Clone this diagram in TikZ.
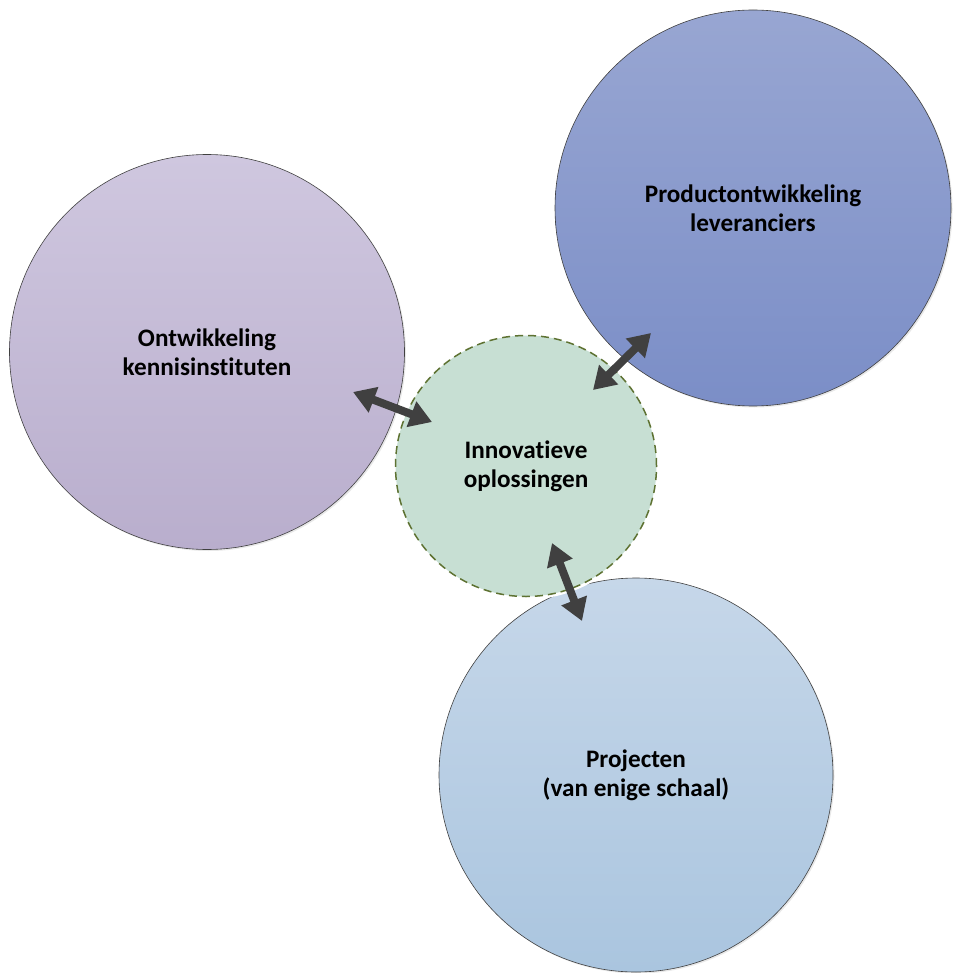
\documentclass[tikz,border=0pt]{standalone}
\usepackage{fontspec}
\setmainfont{Carlito}[Ligatures=CommonOff]
\usepackage{xcolor}
\usetikzlibrary{arrows.meta,shadows}

\definecolor{kennisTop}{HTML}{CFC7DF}
\definecolor{kennisBot}{HTML}{B9AECD}
\definecolor{productTop}{HTML}{98A6D2}
\definecolor{productBot}{HTML}{7B8EC7}
\definecolor{projTop}{HTML}{C6D7E9}
\definecolor{projBot}{HTML}{AAC5DF}
\definecolor{innoFill}{HTML}{C7DFD3}
\definecolor{innoLine}{HTML}{5E7232}
\definecolor{arrowgray}{HTML}{404040}

\tikzset{
  bubble/.style={circle, draw=black!75, line width=0.6pt, inner sep=0pt, align=center,
    font={\bfseries\fontsize{25.2}{29}\selectfont},
    drop shadow={opacity=0.18, shadow xshift=1.5pt, shadow yshift=-1.5pt}},
  link/.style={{Triangle[length=22pt,width=26pt]}-{Triangle[length=22pt,width=26pt]},
    line width=8pt, draw=arrowgray},
}

\begin{document}
\begin{tikzpicture}[x=1pt, y=-1pt]
\useasboundingbox (0,0) rectangle (953,973);
% the three big circles
\node[bubble, minimum size=395pt, top color=kennisTop, bottom color=kennisBot] (kennis) at (207,352) {Ontwikkeling\\kennisinstituten};
\node[bubble, minimum size=396pt, top color=productTop, bottom color=productBot] (product) at (753,208) {Productontwikkeling\\leveranciers};
\node[bubble, minimum size=394pt, top color=projTop, bottom color=projBot] (projecten) at (636,775) {Projecten\\(van enige schaal)};
% middle circle
\node[circle, inner sep=0pt, align=center, minimum size=261pt,
  font={\bfseries\fontsize{25.2}{29}\selectfont},
  preaction={draw=white, line width=6pt, solid},
  fill=innoFill, draw=innoLine, line width=1.5pt, dash pattern=on 8pt off 5pt] (innovatie) at (526,466) {Innovatieve\\oplossingen};
% arrow ends
\coordinate (kl) at (353,392);
\coordinate (kr) at (432,422);
\coordinate (pl) at (593,390);
\coordinate (pr) at (651,333);
\coordinate (bt) at (552,543);
\coordinate (bb) at (582,621);
\draw[link] (kl) -- (kr);
\draw[link] (pl) -- (pr);
\draw[link] (bt) -- (bb);
\end{tikzpicture}
\end{document}
